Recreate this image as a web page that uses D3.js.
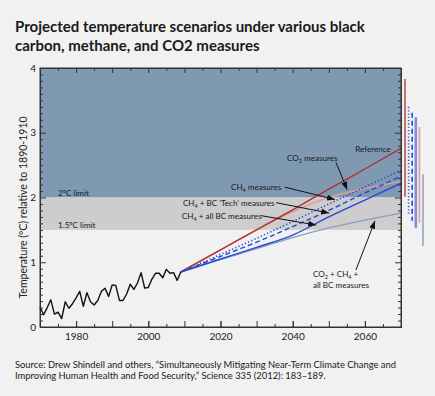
<!DOCTYPE html>
<html>
<head>
<meta charset="utf-8">
<script src="https://cdn.jsdelivr.net/npm/d3@7"></script>
<style>
  body { margin: 0; background: #f1f1f1; }
  svg { display: block; font-family: Lato, "Open Sans", sans-serif; }
</style>
</head>
<body>
<svg id="chart"></svg>
<script>
// observed temperatures, 1970-2009
const histYears = [1970, 1971, 1972, 1973, 1974, 1975, 1976, 1977, 1978, 1979,
  1980, 1981, 1982, 1983, 1984, 1985, 1986, 1987, 1988, 1989,
  1990, 1991, 1992, 1993, 1994, 1995, 1996, 1997, 1998, 1999,
  2000, 2001, 2002, 2003, 2004, 2005, 2006, 2007, 2008, 2009];
const histTemps = [0.31, 0.19, 0.30, 0.42, 0.20, 0.23, 0.13, 0.39, 0.29, 0.36,
  0.45, 0.55, 0.32, 0.53, 0.39, 0.34, 0.41, 0.55, 0.60, 0.47,
  0.65, 0.64, 0.41, 0.41, 0.51, 0.66, 0.58, 0.68, 0.84, 0.60,
  0.61, 0.74, 0.83, 0.83, 0.76, 0.89, 0.83, 0.84, 0.72, 0.85];

// projections
const projYears = [2009, 2020, 2030, 2040, 2050, 2060, 2070];
const referenceRun = [0.85, 1.19, 1.50, 1.81, 2.13, 2.44, 2.76];
const co2Run = [0.85, 1.19, 1.50, 1.78, 2.00, 2.14, 2.25];
const ch4Run = [0.85, 1.12, 1.37, 1.63, 1.90, 2.16, 2.42];
const ch4TechRun = [0.85, 1.09, 1.31, 1.55, 1.80, 2.07, 2.33];
const ch4AllBcRun = [0.85, 1.05, 1.23, 1.42, 1.70, 1.96, 2.22];
const allRun = [0.85, 1.04, 1.21, 1.38, 1.53, 1.65, 1.76];

// uncertainty ranges at 2070 (bars to the right of the plot)
const rangeNames = ["reference", "ch4", "ch4Tech", "ch4AllBc", "co2", "all"];
const rangeLow = [2.01, 1.75, 1.64, 1.53, 1.61, 1.25];
const rangeHigh = [3.83, 3.40, 3.31, 3.24, 3.09, 2.36];

const limits = [1.5, 2.0];
const yTicks = [0, 1, 2, 3, 4];
const xTicks = [1980, 2000, 2020, 2040, 2060];

const W = 435, H = 396;
const margin = { top: 68, right: 34, bottom: 69, left: 40 };
const width = W - margin.left - margin.right;
const height = H - margin.top - margin.bottom;

const svg = d3.select("#chart").attr("width", W).attr("height", H);

svg.append("rect").attr("width", W).attr("height", H).attr("fill", "#f1f1f1");

// title
const title = svg.append("text")
  .attr("x", 15).attr("y", 32)
  .attr("font-size", 15).attr("font-weight", 700).attr("fill", "#1a1a1a");
title.append("tspan").attr("x", 15).text("Projected temperature scenarios under various black");
title.append("tspan").attr("x", 15).attr("dy", 19).text("carbon, methane, and CO2 measures");

const x = d3.scaleLinear().domain([1970, 2070]).range([margin.left, margin.left + width]);
const y = d3.scaleLinear().domain([0, 4]).range([margin.top + height, margin.top]);

// background zones
svg.append("rect")
  .attr("x", x(1970)).attr("y", y(4))
  .attr("width", x(2070) - x(1970)).attr("height", y(limits[1]) - y(4))
  .attr("fill", "#7f99b2");
svg.append("rect")
  .attr("x", x(1970)).attr("y", y(limits[1]))
  .attr("width", x(2070) - x(1970)).attr("height", y(limits[0]) - y(limits[1]))
  .attr("fill", "#cdcdcd");

// axes with inward ticks
const minorY = d3.range(0, 40).map(d => d / 10).filter(d => d % 1 !== 0);
const minorX = d3.range(1975, 2070, 5).filter(d => d % 10 !== 0);
const majorX = d3.range(1970, 2071, 10);

function axisGroup(axis) {
  const g = svg.append("g").call(axis);
  g.select(".domain").attr("stroke", "#333");
  g.selectAll(".tick line").attr("stroke", "#333");
  return g;
}

const left = axisGroup(d3.axisLeft(y).tickValues(yTicks).tickSize(-6).tickPadding(4).tickFormat(d3.format("d")))
  .attr("transform", `translate(${margin.left},0)`);
left.selectAll("text").attr("font-size", 10).attr("fill", "#222").attr("font-family", "Lato");
axisGroup(d3.axisLeft(y).tickValues(minorY).tickSize(-3).tickFormat(""))
  .attr("transform", `translate(${margin.left},0)`);

axisGroup(d3.axisRight(y).tickValues(yTicks).tickSize(-6).tickFormat(""))
  .attr("transform", `translate(${margin.left + width},0)`);
axisGroup(d3.axisRight(y).tickValues(minorY).tickSize(-3).tickFormat(""))
  .attr("transform", `translate(${margin.left + width},0)`);

const bottom = axisGroup(d3.axisBottom(x).tickValues(xTicks).tickSize(-6).tickPadding(6).tickFormat(d3.format("d")))
  .attr("transform", `translate(0,${margin.top + height})`);
bottom.selectAll("text").attr("font-size", 10).attr("fill", "#222").attr("font-family", "Lato");
axisGroup(d3.axisBottom(x).tickValues(majorX).tickSize(-6).tickFormat(""))
  .attr("transform", `translate(0,${margin.top + height})`);
axisGroup(d3.axisBottom(x).tickValues(minorX).tickSize(-3).tickFormat(""))
  .attr("transform", `translate(0,${margin.top + height})`);

axisGroup(d3.axisTop(x).tickValues(majorX).tickSize(-5).tickFormat(""))
  .attr("transform", `translate(0,${margin.top})`);
axisGroup(d3.axisTop(x).tickValues(minorX).tickSize(-3).tickFormat(""))
  .attr("transform", `translate(0,${margin.top})`);

// y axis title
svg.append("text")
  .attr("transform", `translate(27,${(y(0) + y(4)) / 2 + 10}) rotate(-90)`)
  .attr("text-anchor", "middle")
  .attr("font-size", 10.5).attr("fill", "#222")
  .text("Temperature (ºC) relative to 1890-1910");

// lines
const line = d3.line().x(d => x(d[0])).y(d => y(d[1]));
const smooth = d3.line().x(d => x(d[0])).y(d => y(d[1])).curve(d3.curveMonotoneX);

svg.append("path")
  .datum(d3.zip(histYears, histTemps))
  .attr("d", line)
  .attr("fill", "none").attr("stroke", "#111").attr("stroke-width", 1.4)
  .attr("stroke-linejoin", "round");

const runs = [
  { values: allRun, color: "#87a0ba", dash: null, w: 1.3 },
  { values: co2Run, color: "#e89b96", dash: null, w: 1.4 },
  { values: referenceRun, color: "#b2302f", dash: null, w: 1.4 },
  { values: ch4AllBcRun, color: "#2448d8", dash: null, w: 1.4 },
  { values: ch4TechRun, color: "#2448d8", dash: "5,3", w: 1.4 },
  { values: ch4Run, color: "#2448d8", dash: "1.3,2.2", w: 1.5 }
];

svg.selectAll(".run")
  .data(runs)
  .join("path")
  .attr("class", "run")
  .attr("d", d => smooth(d3.zip(projYears, d.values)))
  .attr("fill", "none")
  .attr("stroke", d => d.color)
  .attr("stroke-width", d => d.w)
  .attr("stroke-dasharray", d => d.dash);

// range bars right of the plot
const barX = d3.scalePoint().domain(rangeNames).range([405, 423]);
const barStyle = {
  reference: { color: "#c0504d", dash: null, w: 1.6 },
  ch4: { color: "#3358dd", dash: "1.3,2", w: 1.6 },
  ch4Tech: { color: "#2448d0", dash: "5,3", w: 1.6 },
  ch4AllBc: { color: "#7b8fe2", dash: null, w: 2.6 },
  co2: { color: "#eaa29e", dash: null, w: 1.8 },
  all: { color: "#a3b6cd", dash: null, w: 2 }
};
svg.selectAll(".range")
  .data(rangeNames)
  .join("line")
  .attr("class", "range")
  .attr("x1", d => barX(d)).attr("x2", d => barX(d))
  .attr("y1", (d, i) => y(rangeHigh[i]))
  .attr("y2", (d, i) => y(rangeLow[i]))
  .attr("stroke", d => barStyle[d].color)
  .attr("stroke-width", d => barStyle[d].w)
  .attr("stroke-dasharray", d => barStyle[d].dash);

// annotations
svg.append("defs").append("marker")
  .attr("id", "arrow")
  .attr("viewBox", "0 0 8 6")
  .attr("refX", 8).attr("refY", 3)
  .attr("markerWidth", 8).attr("markerHeight", 6)
  .attr("markerUnits", "userSpaceOnUse")
  .attr("orient", "auto")
  .append("path").attr("d", "M0,0L8,3L0,6Z").attr("fill", "#111");

// parts: plain strings, or {sub: "2"} for a subscript
function label(yr, val, parts) {
  const t = svg.append("text")
    .attr("x", x(yr)).attr("y", y(val))
    .attr("font-size", 8.1).attr("fill", "#1a1a1a");
  let shifted = false;
  parts.forEach(p => {
    if (typeof p === "string") {
      t.append("tspan").attr("dy", shifted ? -2 : null).text(p);
      shifted = false;
    } else {
      t.append("tspan").attr("dy", 2).attr("font-size", 5.5).text(p.sub);
      shifted = true;
    }
  });
  return t;
}

label(2057.3, 2.70, ["Reference"]);
label(2038.4, 2.56, ["CO", { sub: "2" }, " measures"]);
label(2022.9, 2.12, ["CH", { sub: "4" }, " measures"]);
label(2009.6, 1.87, ["CH", { sub: "4" }, " + BC ‘Tech’ measures"]);
label(2009.3, 1.67, ["CH", { sub: "4" }, " + all BC measures"]);
label(1975, 2.02, ["2ºC limit"]);
label(1975, 1.53, ["1.5ºC limit"]);
label(2045.6, 0.77, ["CO", { sub: "2" }, " + CH", { sub: "4" }, " +"]);
label(2045.6, 0.61, ["all BC measures"]);

const arrows = [
  [2052.0, 2.54, 2055.1, 2.12],
  [2037.8, 2.16, 2051.7, 1.97],
  [2035.4, 1.92, 2050.1, 1.76],
  [2031.2, 1.72, 2046.5, 1.575],
  [2057.5, 0.88, 2062.8, 1.64]
];
svg.selectAll(".arrow")
  .data(arrows)
  .join("line")
  .attr("class", "arrow")
  .attr("x1", d => x(d[0])).attr("y1", d => y(d[1]))
  .attr("x2", d => x(d[2])).attr("y2", d => y(d[3]))
  .attr("stroke", "#111").attr("stroke-width", 1)
  .attr("marker-end", "url(#arrow)");

// frame
svg.append("rect")
  .attr("x", x(1970)).attr("y", y(4))
  .attr("width", x(2070) - x(1970)).attr("height", y(0) - y(4))
  .attr("fill", "none").attr("stroke", "#333").attr("stroke-width", 1);

// source
const src = svg.append("text").attr("x", 15).attr("y", 368)
  .attr("font-size", 9.4).attr("fill", "#1a1a1a");
src.append("tspan").attr("x", 15)
  .text("Source: Drew Shindell and others, “Simultaneously Mitigating Near-Term Climate Change and");
src.append("tspan").attr("x", 15).attr("dy", 10.5)
  .text("Improving Human Health and Food Security,” Science 335 (2012): 183–189.");
</script>
</body>
</html>
